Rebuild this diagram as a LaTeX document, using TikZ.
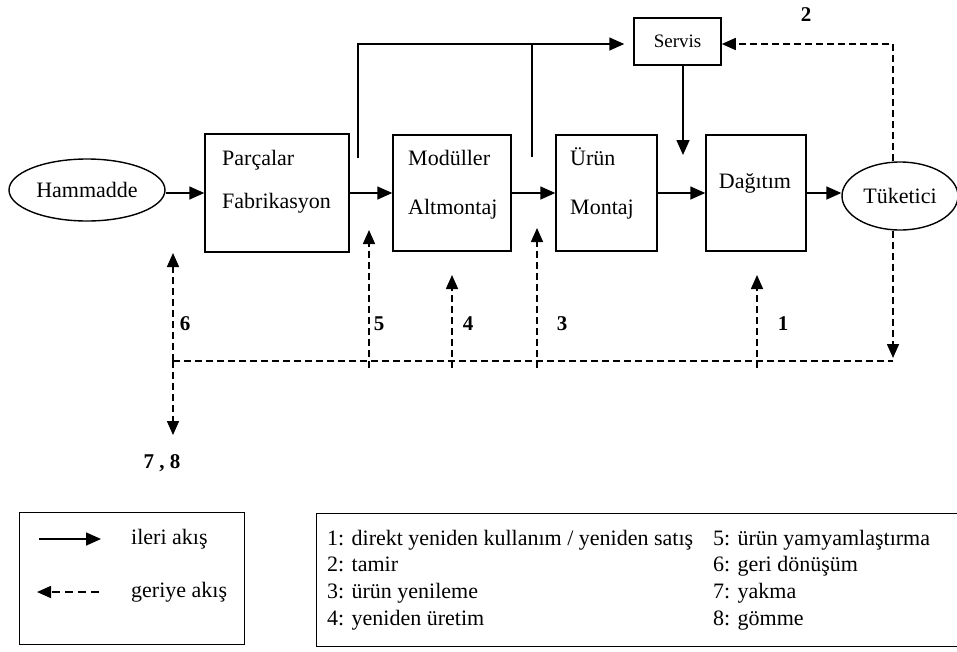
\documentclass[tikz,border=0pt]{standalone}
\usepackage{fontspec}
\setmainfont{Liberation Serif}
\usetikzlibrary{shapes.geometric,arrows.meta}
\begin{document}
\begin{tikzpicture}[x=1pt,y=-1pt,
  every node/.style={font=\fontsize{22}{26}\selectfont, inner sep=0pt},
  box/.style={draw, line width=1.5pt},
  ell/.style={ellipse, draw, line width=1.4pt},
  ln/.style={line width=1.6pt},
  fw/.style={line width=1.6pt, -{Triangle[length=15pt,width=13pt]}},
  dsh/.style={line width=1.6pt, dash pattern=on 7pt off 4pt},
  bk/.style={line width=1.6pt, dash pattern=on 7pt off 4pt, -{Triangle[length=14pt,width=12pt]}},
  lbl/.style={font=\bfseries\fontsize{21}{25}\selectfont},
  txt/.style={anchor=west, text height=15pt, text depth=4pt}]
\clip (0,0) rectangle (957,651);
\useasboundingbox (0,0) rectangle (957,651);
\fill[white] (0,0) rectangle (957,651);

% main nodes
\node[ell, minimum width=156pt, minimum height=62pt] (ham) at (87,190) {Hammadde};
\node[ell, minimum width=116pt, minimum height=68pt] (tuk) at (900,196) {Tüketici};

\node[box, minimum width=144pt, minimum height=118pt] (parts) at (277,193) {};
\node[txt] (partsA) at (222,160) {Parçalar};
\node[txt] (partsB) at (222,203) {Fabrikasyon};

\node[box, minimum width=118pt, minimum height=116pt] (mod) at (452,193) {};
\node[txt] (modA) at (408,160) {Modüller};
\node[txt] (modB) at (408,209) {Altmontaj};

\node[box, minimum width=101pt, minimum height=116pt] (urun) at (606.5,193) {};
\node[txt] (urunA) at (570,160) {Ürün};
\node[txt] (urunB) at (570,209) {Montaj};

\node[box, minimum width=100pt, minimum height=116pt] (dag) at (756,193) {};
\node[txt, anchor=center] (dagA) at (755,183) {Dağıtım};

\node[box, minimum width=87pt, minimum height=47pt, font=\fontsize{19}{23}\selectfont] (servis) at (677.5,41.5) {Servis};

% forward flow
\draw[fw] (ham.east |- parts.west) -- (parts.west);
\draw[fw] (parts.east) -- (parts.east -| mod.west);
\draw[fw] (mod.east) -- (mod.east -| urun.west);
\draw[fw] (urun.east) -- (urun.east -| dag.west);
\draw[fw] (dag.east) -- (dag.east -| tuk.west);

\coordinate (t1) at (358,44);
\coordinate (b1) at (358,158);
\coordinate (t2) at (532,44);
\coordinate (b2) at (532,157);
\draw[fw, shorten >=9pt] (b1) -- (t1) -- (t1 -| servis.west);
\draw[ln] (b2) -- (t2);
\coordinate (sd) at (683,155);
\draw[fw] (servis.south -| sd) -- (sd);

% reverse flow
\coordinate (c2) at (893,44);
\draw[bk] (tuk.north -| c2) -- (c2) -- (c2 -| servis.east);
\coordinate (r1) at (893,358);
\draw[bk] (tuk.south -| c2) -- (r1);
\coordinate (h6) at (173,361);
\coordinate (hr) at (893,361);
\draw[dsh] (h6) -- (hr);
\coordinate (u6) at (173,253);
\coordinate (d6) at (173,435);
\draw[bk] (h6) -- (u6);
\draw[bk] (h6) -- (d6);
\coordinate (s5) at (369,368); \coordinate (e5) at (369,230);
\coordinate (s4) at (452,368); \coordinate (e4) at (452,275);
\coordinate (s3) at (537,368); \coordinate (e3) at (537,228);
\coordinate (s1) at (757,368); \coordinate (e1) at (757,275);
\draw[bk] (s5) -- (e5);
\draw[bk] (s4) -- (e4);
\draw[bk] (s3) -- (e3);
\draw[bk] (s1) -- (e1);

% labels
\node[lbl] (n2) at (806,15) {2};
\node[lbl] (n6) at (185,324) {6};
\node[lbl] (n5) at (379,324) {5};
\node[lbl] (n4) at (468,324) {4};
\node[lbl] (n3) at (562,324) {3};
\node[lbl] (n1) at (783,324) {1};
\node[lbl] (n78) at (162,463) {7 , 8};

% legend 1
\node[draw, line width=1.4pt, minimum width=225pt, minimum height=132pt, anchor=north west] (leg1) at (19,512) {};
\coordinate (la1) at (39,539); \coordinate (la2) at (101,539);
\draw[fw] (la1) -- (la2);
\coordinate (lb1) at (99,592); \coordinate (lb2) at (37,592);
\draw[bk, dash pattern=on 8pt off 5pt] (lb1) -- (lb2);
\node[txt] (lt1) at (131,539) {ileri akış};
\node[txt] (lt2) at (131,592) {geriye akış};

% legend 2
\node[draw, line width=1.4pt, minimum width=660pt, minimum height=133pt, anchor=north west] (leg2) at (316,513) {};
\node[txt] (k1) at (327,540) {1: direkt yeniden kullanım / yeniden satış};
\node[txt] (k2) at (327,566) {2: tamir};
\node[txt] (k3) at (327,593) {3: ürün yenileme};
\node[txt] (k4) at (327,620) {4: yeniden üretim};
\node[txt] (k5) at (713,540) {5: ürün yamyamlaştırma};
\node[txt] (k6) at (713,566) {6: geri dönüşüm};
\node[txt] (k7) at (713,593) {7: yakma};
\node[txt] (k8) at (713,620) {8: gömme};
\end{tikzpicture}
\end{document}
